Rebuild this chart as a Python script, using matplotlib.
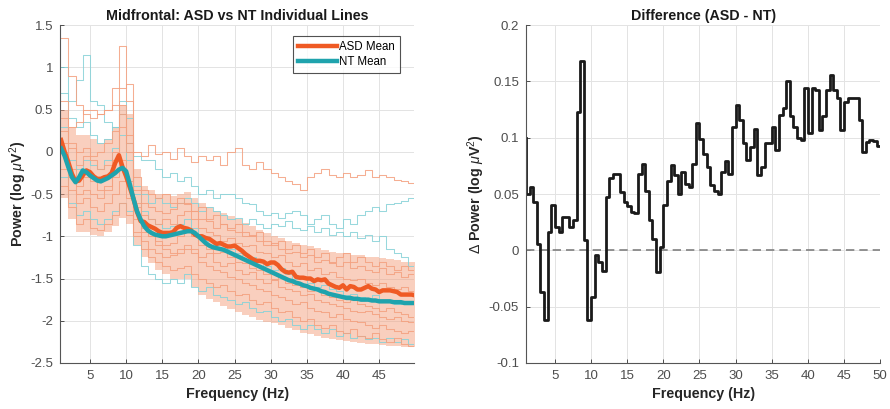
import numpy as np
import matplotlib
matplotlib.use("Agg")
import matplotlib.pyplot as plt
from matplotlib.ticker import FuncFormatter

plt.rcParams["font.family"] = ["Liberation Sans", "DejaVu Sans"]
plt.rcParams["mathtext.fontset"] = "custom"
plt.rcParams["mathtext.rm"] = "Liberation Sans"
plt.rcParams["mathtext.it"] = "Liberation Sans:italic"

# frequency grids (Hz)
freq_half = np.arange(1.0, 50.01, 0.5)   # 0.5 Hz bins, right edges
freq_1hz = np.arange(1, 51)              # 1 Hz bins for individual subjects

# group means (log uV^2), 0.5 Hz bins
nt_mean = [0.04, -0.05, -0.18, -0.30, -0.36, -0.30, -0.22, -0.24, -0.28, -0.31,
           -0.34, -0.35, -0.33, -0.31, -0.28, -0.25, -0.21, -0.19, -0.23, -0.38,
           -0.55, -0.70, -0.80, -0.88, -0.93, -0.96, -0.98, -0.99, -1.00, -1.00,
           -0.99, -0.98, -0.97, -0.96, -0.95, -0.94, -0.94, -0.96, -1.00, -1.04,
           -1.08, -1.11, -1.13, -1.14, -1.15, -1.16, -1.18, -1.20, -1.22, -1.24,
           -1.26, -1.28, -1.30, -1.32, -1.34, -1.36, -1.38, -1.40, -1.42, -1.44,
           -1.46, -1.48, -1.50, -1.52, -1.53, -1.55, -1.56, -1.58, -1.59, -1.61,
           -1.62, -1.63, -1.65, -1.66, -1.68, -1.69, -1.70, -1.71, -1.72, -1.73,
           -1.73, -1.74, -1.74, -1.75, -1.75, -1.75, -1.76, -1.76, -1.77, -1.77,
           -1.77, -1.77, -1.78, -1.78, -1.78, -1.79, -1.79, -1.79, -1.79]
asd_mean = [0.14, 0.00, -0.12, -0.26, -0.35, -0.34, -0.28, -0.22, -0.24, -0.29,
            -0.32, -0.32, -0.30, -0.29, -0.25, -0.13, -0.04, -0.18, -0.29, -0.42,
            -0.55, -0.71, -0.82, -0.83, -0.87, -0.89, -0.91, -0.94, -0.96, -0.96,
            -0.96, -0.95, -0.90, -0.88, -0.90, -0.91, -0.93, -0.98, -1.00, -1.00,
            -1.02, -1.03, -1.06, -1.09, -1.08, -1.10, -1.12, -1.12, -1.11, -1.14,
            -1.17, -1.21, -1.24, -1.27, -1.29, -1.29, -1.30, -1.33, -1.31, -1.31,
            -1.34, -1.39, -1.42, -1.43, -1.42, -1.48, -1.49, -1.49, -1.50, -1.50,
            -1.53, -1.51, -1.52, -1.51, -1.56, -1.58, -1.60, -1.61, -1.58, -1.63,
            -1.59, -1.60, -1.63, -1.63, -1.61, -1.59, -1.62, -1.63, -1.66, -1.64,
            -1.64, -1.64, -1.65, -1.66, -1.69, -1.69, -1.69, -1.69, -1.70]

# difference ASD - NT, 0.5 Hz bins
diff_power = [0.100, 0.050, 0.056, 0.043, 0.006, -0.037, -0.062, 0.016, 0.040, 0.021,
              0.016, 0.030, 0.030, 0.021, 0.027, 0.123, 0.168, 0.009, -0.062, -0.041,
              -0.004, -0.010, -0.018, 0.047, 0.064, 0.068, 0.068, 0.052, 0.043, 0.039,
              0.034, 0.033, 0.068, 0.077, 0.053, 0.027, 0.010, -0.019, 0.003, 0.040,
              0.062, 0.076, 0.067, 0.050, 0.070, 0.059, 0.056, 0.077, 0.113, 0.099,
              0.086, 0.074, 0.058, 0.053, 0.050, 0.070, 0.079, 0.068, 0.110, 0.129,
              0.116, 0.095, 0.080, 0.092, 0.108, 0.067, 0.074, 0.095, 0.095, 0.110,
              0.089, 0.120, 0.126, 0.150, 0.119, 0.110, 0.100, 0.098, 0.144, 0.104,
              0.144, 0.142, 0.107, 0.119, 0.142, 0.156, 0.142, 0.135, 0.107, 0.132,
              0.135, 0.135, 0.135, 0.116, 0.087, 0.096, 0.098, 0.097, 0.093]

# spread of the ASD individual lines (1 Hz bins)
cloud_upper = [0.5, 0.3, 0.2, 0.2, 0.15, 0.1, 0.15, 0.3, 0.55, 0.45,
               -0.2, -0.4, -0.45, -0.5, -0.5, -0.52, -0.5, -0.48, -0.55, -0.6,
               -0.65, -0.7, -0.72, -0.76, -0.8, -0.84, -0.88, -0.92, -0.96, -1.0,
               -1.02, -1.05, -1.08, -1.1, -1.12, -1.14, -1.16, -1.18, -1.2, -1.2,
               -1.22, -1.22, -1.24, -1.25, -1.26, -1.27, -1.28, -1.3, -1.3, -1.3]
cloud_lower = [-0.55, -0.8, -0.95, -0.95, -0.98, -1.0, -0.95, -0.88, -0.78, -0.85,
               -1.1, -1.25, -1.32, -1.4, -1.45, -1.5, -1.5, -1.5, -1.6, -1.7,
               -1.74, -1.78, -1.82, -1.86, -1.9, -1.93, -1.96, -1.99, -2.01, -2.03,
               -2.05, -2.08, -2.11, -2.14, -2.16, -2.18, -2.2, -2.22, -2.23, -2.24,
               -2.25, -2.26, -2.27, -2.28, -2.29, -2.3, -2.3, -2.31, -2.31, -2.31]

# individual NT subjects (1 Hz bins)
nt_subjects = [
    [1.0, 0.6, 0.85, 1.15, 0.6, 0.55, 0.35, 0.3, 0.45, 0.1,
     -0.05, -0.1, -0.1, -0.2, -0.3, -0.25, -0.35, -0.3, -0.4, -0.5,
     -0.45, -0.55, -0.5, -0.5, -0.55, -0.6, -0.62, -0.7, -0.75, -0.72,
     -0.78, -0.72, -0.7, -0.75, -0.85, -0.8, -0.75, -0.85, -0.9, -0.8,
     -0.85, -0.75, -0.7, -0.65, -0.7, -0.62, -0.6, -0.58, -0.55, -0.55],
    [0.3, -0.1, -0.2, -0.1, -0.15, -0.2, -0.1, 0.05, 0.2, -0.1,
     -0.4, -0.5, -0.6, -0.55, -0.6, -0.65, -0.6, -0.55, -0.6, -0.7,
     -0.65, -0.7, -0.75, -0.8, -0.78, -0.85, -0.8, -0.85, -0.9, -0.85,
     -0.88, -0.82, -0.9, -0.92, -0.88, -0.95, -0.9, -0.98, -0.95, -1.0,
     -0.95, -1.02, -0.98, -1.05, -1.0, -1.15, -1.2, -1.25, -1.35, -1.35],
    [-0.3, -0.6, -0.75, -0.7, -0.8, -0.85, -0.8, -0.7, -0.6, -0.7,
     -1.1, -1.35, -1.45, -1.5, -1.55, -1.5, -1.55, -1.45, -1.6, -1.65,
     -1.6, -1.7, -1.72, -1.75, -1.8, -1.78, -1.85, -1.9, -1.88, -1.95,
     -2.0, -1.98, -2.05, -2.1, -2.05, -2.1, -2.15, -2.1, -2.18, -2.15,
     -2.2, -2.18, -2.22, -2.2, -2.25, -2.2, -2.25, -2.22, -2.28, -2.28],
    [0.7, 0.4, 0.3, 0.35, 0.2, 0.1, 0.15, 0.3, 0.6, 0.4,
     -0.5, -0.7, -0.8, -0.85, -0.9, -0.88, -0.85, -0.8, -0.9, -1.0,
     -1.05, -1.1, -1.1, -1.15, -1.2, -1.22, -1.25, -1.3, -1.35, -1.4,
     -1.38, -1.45, -1.5, -1.48, -1.55, -1.6, -1.58, -1.62, -1.65, -1.7,
     -1.68, -1.72, -1.75, -1.7, -1.78, -1.75, -1.8, -1.78, -1.8, -1.8],
]

# individual ASD subjects (1 Hz bins)
asd_subjects = [
    [1.35, 0.9, 0.55, 0.45, 0.4, 0.45, 0.5, 0.75, 1.25, 0.6,
     0.0, -0.05, 0.08, -0.02, 0.0, -0.08, 0.05, -0.05, -0.12, -0.05,
     -0.1, -0.05, -0.15, 0.0, 0.05, -0.15, -0.2, -0.12, -0.2, -0.25,
     -0.3, -0.35, -0.38, -0.45, -0.3, -0.25, -0.2, -0.28, -0.3, -0.25,
     -0.3, -0.28, -0.22, -0.3, -0.28, -0.3, -0.33, -0.35, -0.37, -0.37],
    [0.6, 0.3, 0.35, 0.5, 0.5, 0.45, 0.5, 0.55, 0.75, 0.8,
     -0.3, -0.45, -0.5, -0.55, -0.5, -0.6, -0.55, -0.6, -0.7, -0.65,
     -0.8, -0.75, -0.85, -0.9, -0.85, -0.95, -1.0, -0.95, -1.05, -1.1,
     -1.05, -1.15, -1.1, -1.2, -1.15, -1.25, -1.2, -1.3, -1.25, -1.2,
     -1.3, -1.25, -1.3, -1.35, -1.3, -1.35, -1.4, -1.35, -1.4, -1.4],
    [0.4, 0.1, 0.0, 0.05, -0.05, 0.0, 0.1, 0.25, 0.45, 0.2,
     -0.45, -0.6, -0.65, -0.7, -0.72, -0.68, -0.6, -0.62, -0.7, -0.8,
     -0.82, -0.9, -0.85, -0.92, -0.95, -1.0, -0.98, -1.05, -1.1, -1.08,
     -1.15, -1.2, -1.18, -1.25, -1.22, -1.3, -1.28, -1.32, -1.35, -1.3,
     -1.38, -1.35, -1.4, -1.42, -1.38, -1.45, -1.42, -1.48, -1.45, -1.45],
    [-0.4, -0.65, -0.85, -0.8, -0.9, -0.92, -0.85, -0.75, -0.6, -0.75,
     -1.0, -1.15, -1.25, -1.3, -1.35, -1.4, -1.38, -1.35, -1.45, -1.5,
     -1.55, -1.6, -1.58, -1.65, -1.7, -1.68, -1.75, -1.8, -1.78, -1.85,
     -1.9, -1.88, -1.95, -2.0, -1.98, -2.05, -2.08, -2.05, -2.12, -2.15,
     -2.1, -2.18, -2.2, -2.15, -2.22, -2.25, -2.2, -2.28, -2.3, -2.3],
    [0.1, -0.2, -0.4, -0.3, -0.35, -0.45, -0.4, -0.3, -0.1, -0.35,
     -0.8, -0.95, -1.0, -1.05, -1.1, -1.08, -1.0, -0.95, -1.0, -1.1,
     -1.15, -1.2, -1.18, -1.25, -1.3, -1.32, -1.38, -1.4, -1.45, -1.5,
     -1.48, -1.55, -1.58, -1.6, -1.65, -1.62, -1.7, -1.72, -1.75, -1.78,
     -1.75, -1.8, -1.82, -1.85, -1.88, -1.85, -1.9, -1.92, -1.95, -1.95],
    [0.25, 0.05, -0.15, -0.05, -0.1, -0.2, -0.15, 0.0, 0.3, 0.0,
     -0.6, -0.75, -0.8, -0.85, -0.8, -0.85, -0.75, -0.7, -0.8, -0.9,
     -0.95, -0.98, -1.05, -1.02, -1.08, -1.12, -1.1, -1.18, -1.2, -1.25,
     -1.22, -1.3, -1.35, -1.32, -1.4, -1.38, -1.45, -1.42, -1.48, -1.5,
     -1.52, -1.5, -1.55, -1.58, -1.55, -1.6, -1.62, -1.6, -1.65, -1.65],
    [-0.2, -0.45, -0.6, -0.55, -0.65, -0.7, -0.6, -0.5, -0.35, -0.55,
     -0.95, -1.05, -1.15, -1.2, -1.25, -1.22, -1.2, -1.15, -1.2, -1.3,
     -1.35, -1.4, -1.42, -1.48, -1.5, -1.55, -1.58, -1.62, -1.65, -1.7,
     -1.72, -1.75, -1.8, -1.78, -1.85, -1.88, -1.9, -1.95, -1.92, -1.98,
     -2.0, -2.02, -2.05, -2.08, -2.05, -2.1, -2.12, -2.15, -2.12, -2.12],
    [0.0, -0.3, -0.5, -0.45, -0.5, -0.55, -0.45, -0.1, 0.55, 0.1,
     -0.65, -0.9, -1.0, -1.1, -1.15, -1.2, -1.15, -1.1, -1.15, -1.25,
     -1.2, -1.3, -1.35, -1.32, -1.4, -1.45, -1.42, -1.5, -1.55, -1.52,
     -1.6, -1.62, -1.65, -1.7, -1.68, -1.75, -1.78, -1.8, -1.82, -1.85,
     -1.88, -1.9, -1.88, -1.92, -1.95, -1.98, -1.95, -2.0, -2.02, -2.02],
]

asd_col = "#ef5a24"
nt_col = "#1fa3ad"
asd_light = "#f4a07f"
nt_light = "#86d2d8"
grid_col = "#e3e3e3"
tick_col = "#4d4d4d"
fs = 10.3

fig = plt.figure(figsize=(8.9, 4.09), dpi=100)
ax1 = fig.add_axes([0.0674, 0.1125, 0.398, 0.826])
ax2 = fig.add_axes([0.591, 0.1125, 0.398, 0.826])

# left panel: individual lines + means
ax1.fill_between(freq_1hz, cloud_lower, cloud_upper, step="post",
                 color=asd_light, alpha=0.5, lw=0)
for s in nt_subjects:
    ax1.step(freq_1hz, s, where="post", color=nt_light, lw=0.75, alpha=0.85)
for s in asd_subjects:
    ax1.step(freq_1hz, s, where="post", color=asd_light, lw=0.75, alpha=0.85)
ax1.plot(freq_half, asd_mean, color=asd_col, lw=3.2, label="ASD Mean",
         solid_joinstyle="round")
ax1.plot(freq_half, nt_mean, color=nt_col, lw=3.2, label="NT Mean",
         solid_joinstyle="round")

ax1.set_xlim(0.85, 49.85)
ax1.set_ylim(-2.5, 1.5)
ax1.set_xticks(np.arange(5, 50, 5))
ax1.set_yticks(np.arange(-2.5, 1.51, 0.5))
ax1.set_title("Midfrontal: ASD vs NT Individual Lines", fontsize=fs,
              fontweight="bold", color="#1a1a1a", pad=4)
ax1.set_xlabel("Frequency (Hz)", fontsize=fs, fontweight="bold", color="#262626")
ax1.set_ylabel(r"Power (log $\mu$V$^2$)", fontsize=fs, fontweight="bold",
               color="#262626", labelpad=1)
leg = ax1.legend(loc="upper right", bbox_to_anchor=(0.975, 0.985), fontsize=8.3,
                 frameon=True, fancybox=False, edgecolor="#262626",
                 handlelength=3.4, borderpad=0.4, labelspacing=0.3,
                 handletextpad=0.2)
leg.get_frame().set_linewidth(0.8)

# right panel: difference
ax2.axhline(0, color="#808080", lw=1.2, ls=(0, (5, 3)))
ax2.step(freq_half, diff_power, where="pre", color="#1a1a1a", lw=2,
         solid_joinstyle="round")
ax2.set_xlim(1, 50)
ax2.set_ylim(-0.1, 0.2)
ax2.set_xticks(np.arange(5, 51, 5))
ax2.set_yticks(np.arange(-0.1, 0.201, 0.05))
ax2.set_title("Difference (ASD - NT)", fontsize=fs, fontweight="bold",
              color="#1a1a1a", pad=4)
ax2.set_xlabel("Frequency (Hz)", fontsize=fs, fontweight="bold", color="#262626")
ax2.set_ylabel(r"$\Delta$ Power (log $\mu$V$^2$)", fontsize=fs, fontweight="bold",
               color="#262626", labelpad=1)

fmt = FuncFormatter(lambda v, p: "0" if abs(v) < 1e-9 else "%g" % round(v, 3))
for ax in (ax1, ax2):
    ax.grid(True, color=grid_col, lw=0.7)
    ax.set_axisbelow(True)
    ax.yaxis.set_major_formatter(fmt)
    ax.tick_params(direction="in", length=3, width=0.7, colors=tick_col,
                   labelsize=9.5, pad=5)
    for side in ("top", "right"):
        ax.spines[side].set_visible(False)
    for side in ("left", "bottom"):
        ax.spines[side].set_color("#555555")
        ax.spines[side].set_linewidth(0.8)

fig.savefig("out.png", dpi=100)
